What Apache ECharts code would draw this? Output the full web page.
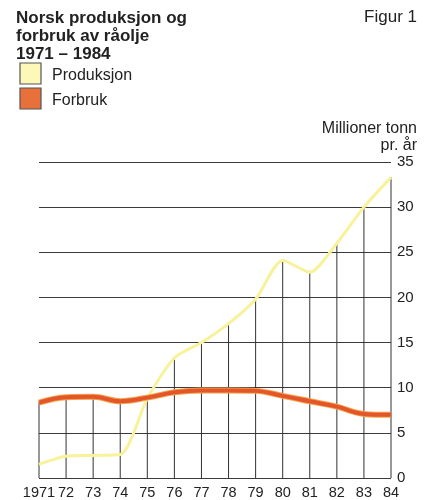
<!DOCTYPE html>
<html>
<head>
<meta charset="utf-8">
<script src="https://cdn.jsdelivr.net/npm/echarts@6/dist/echarts.min.js"></script>
<style>
html,body{margin:0;padding:0;background:#fff;}
#c{width:428px;height:500px;}
</style>
</head>
<body>
<div id="c"></div>
<script>
const years = ['1971','72','73','74','75','76','77','78','79','80','81','82','83','84'];
const produksjon = [1.5, 2.4, 2.5, 2.6, 8.8, 13.3, 15.0, 17.1, 19.8, 24.1, 22.8, 26.0, 30.0, 33.3];
const forbruk = [8.35, 8.95, 9.0, 8.5, 8.9, 9.5, 9.7, 9.7, 9.65, 9.1, 8.5, 7.9, 7.1, 7.0];
const yTicks = [0, 5, 10, 15, 20, 25, 30, 35];

const stems = years.map((y, i) => Math.max(produksjon[i], forbruk[i]));
const FONT = '"Liberation Sans", Arial, sans-serif';
const chart = echarts.init(document.getElementById('c'));
chart.setOption({
  animation: false,
  backgroundColor: '#fff',
  grid: {left: 39, right: 37, top: 162, bottom: 22},
  xAxis: {
    type: 'category', data: years, boundaryGap: false,
    axisLine: {show: false}, axisTick: {show: false},
    axisLabel: {color: '#222', fontFamily: FONT, fontSize: 14.5, margin: 7, interval: 0},
    splitLine: {show: false}
  },
  yAxis: {
    type: 'value', position: 'right', min: 0, max: 35, interval: 5,
    axisLine: {show: false}, axisTick: {show: false},
    axisLabel: {color: '#222', fontFamily: FONT, fontSize: 15, margin: 6},
    splitLine: {show: true, lineStyle: {color: '#3a3a3a', width: 1}}
  },
  graphic: [
    {type: 'text', left: 16, top: 9, style: {text: 'Norsk produksjon og\nforbruk av råolje\n1971 – 1984', font: 'bold 17px ' + FONT, fill: '#222', lineHeight: 18}},
    {type: 'text', right: 11, top: 9, style: {text: 'Figur 1', font: '17px ' + FONT, fill: '#222'}},
    {type: 'rect', shape: {x: 20, y: 63, width: 21, height: 21}, style: {fill: '#fdf7b8', stroke: '#555', lineWidth: 1.2}},
    {type: 'rect', shape: {x: 20, y: 88, width: 21, height: 21}, style: {fill: '#e8703a', stroke: '#555', lineWidth: 1.2}},
    {type: 'text', left: 52, top: 68, style: {text: 'Produksjon', font: '16px ' + FONT, fill: '#222'}},
    {type: 'text', left: 52, top: 93, style: {text: 'Forbruk', font: '16px ' + FONT, fill: '#222'}},
    {type: 'text', right: 11, top: 121, style: {text: 'Millioner tonn', font: '16px ' + FONT, fill: '#222'}},
    {type: 'text', right: 11, top: 138, style: {text: 'pr. år', font: '16px ' + FONT, fill: '#222'}}
  ],
  series: [
    {
      type: 'custom', z: 2,
      renderItem: function (params, api) {
        const p0 = api.coord([api.value(0), 0]);
        const p1 = api.coord([api.value(0), api.value(1)]);
        return {type: 'line', shape: {x1: p0[0], y1: p0[1], x2: p1[0], y2: p1[1]}, style: {stroke: '#333', lineWidth: 1}};
      },
      data: stems.map((v, i) => [i, v])
    },
    {
      name: 'Produksjon', type: 'line', data: produksjon, smooth: 0.25, symbol: 'none', z: 3,
      lineStyle: {color: '#f8f29a', width: 3}
    },
    {
      name: 'Forbruk', type: 'line', data: forbruk, smooth: 0.4, symbol: 'none', z: 4,
      lineStyle: {color: '#f2a24a', width: 6}
    },
    {
      name: 'Forbruk2', type: 'line', data: forbruk, smooth: 0.4, symbol: 'none', z: 5,
      lineStyle: {color: '#e4562a', width: 4}
    }
  ]
});
</script>
</body>
</html>
